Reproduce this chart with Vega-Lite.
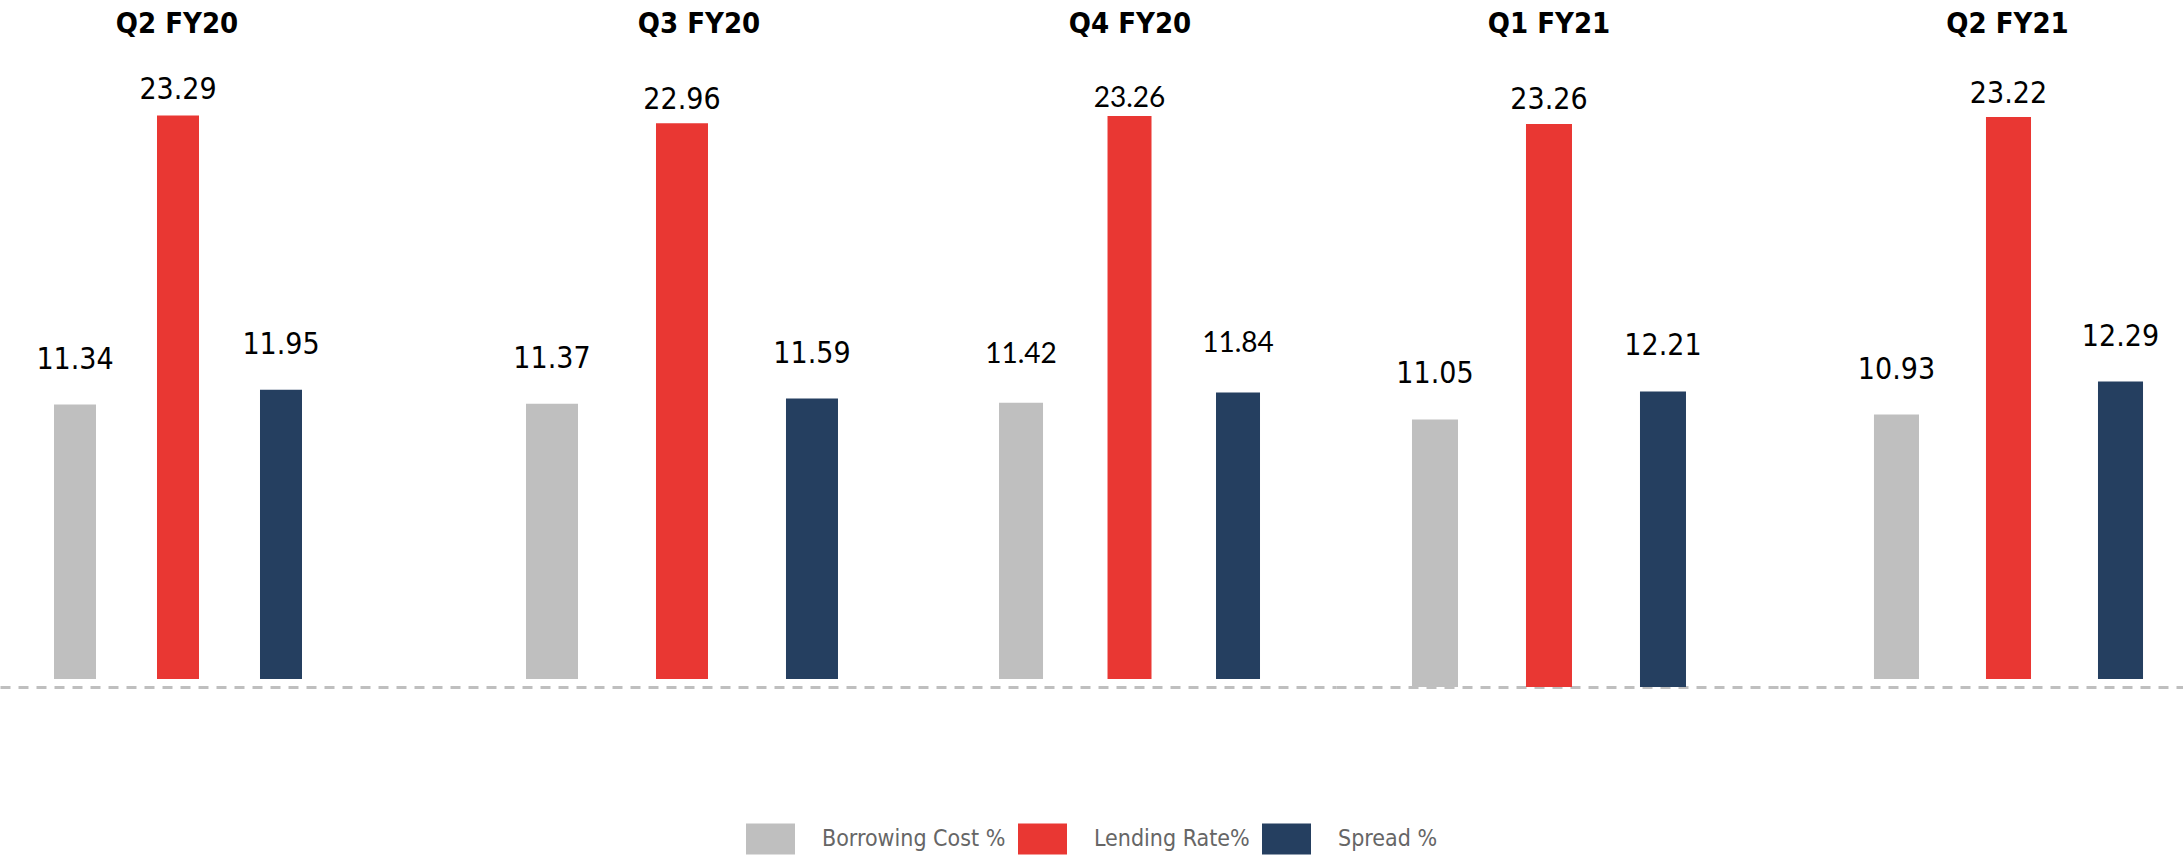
{
  "$schema": "https://vega.github.io/schema/vega-lite/v6.json",
  "padding": {"top": 10, "left": 0, "right": 0, "bottom": 0},
  "spacing": 0,
  "background": "#ffffff",
  "datasets": {
    "rates": [
      {"quarter": "Q2 FY20", "series": "Borrowing Cost %", "value": 11.34},
      {"quarter": "Q2 FY20", "series": "Lending Rate%", "value": 23.29},
      {"quarter": "Q2 FY20", "series": "Spread %", "value": 11.95},
      {"quarter": "Q3 FY20", "series": "Borrowing Cost %", "value": 11.37},
      {"quarter": "Q3 FY20", "series": "Lending Rate%", "value": 22.96},
      {"quarter": "Q3 FY20", "series": "Spread %", "value": 11.59},
      {"quarter": "Q4 FY20", "series": "Borrowing Cost %", "value": 11.42},
      {"quarter": "Q4 FY20", "series": "Lending Rate%", "value": 23.26},
      {"quarter": "Q4 FY20", "series": "Spread %", "value": 11.84},
      {"quarter": "Q1 FY21", "series": "Borrowing Cost %", "value": 11.05},
      {"quarter": "Q1 FY21", "series": "Lending Rate%", "value": 23.26},
      {"quarter": "Q1 FY21", "series": "Spread %", "value": 12.21},
      {"quarter": "Q2 FY21", "series": "Borrowing Cost %", "value": 10.93},
      {"quarter": "Q2 FY21", "series": "Lending Rate%", "value": 23.22},
      {"quarter": "Q2 FY21", "series": "Spread %", "value": 12.29}
    ]
  },
  "data": {"name": "rates"},
  "hconcat": [
    {
      "width": 414, "height": 613,
      "title": {"text": "Q2 FY20", "dx": -30},
      "transform": [{"filter": "datum.quarter === 'Q2 FY20'"}],
      "encoding": {
        "x": {"field": "series", "type": "nominal", "scale": {"domain": ["Borrowing Cost %", "Lending Rate%", "Spread %"], "paddingInner": 0.5922, "paddingOuter": 0.8058, "align": 0.3253}, "axis": {"labels": false, "ticks": false, "title": null, "domainDash": [10, 8], "domainColor": "#BFBFBF", "domainWidth": 3}},
        "y": {"field": "value", "type": "quantitative", "scale": {"domain": [-0.33, 25], "nice": false, "zero": false}, "axis": null}
      },
      "layer": [
        {"mark": {"type": "bar"}, "encoding": {"color": {"field": "series", "type": "nominal", "scale": {"domain": ["Borrowing Cost %", "Lending Rate%", "Spread %"], "range": ["#BFBFBF", "#E93733", "#253F60"]}, "legend": {"title": null}}}},
        {"transform": [{"filter": "datum.series === 'Lending Rate%'"}], "mark": {"type": "text", "baseline": "alphabetic", "dy": -16, "font": "DejaVu Sans Condensed", "fontSize": 30, "color": "#000000"}, "encoding": {"text": {"field": "value", "type": "quantitative", "format": ".2f"}}},
        {"transform": [{"filter": "datum.series !== 'Lending Rate%'"}], "mark": {"type": "text", "baseline": "alphabetic", "dy": -36, "font": "DejaVu Sans Condensed", "fontSize": 30, "color": "#000000"}, "encoding": {"text": {"field": "value", "type": "quantitative", "format": ".2f"}}}
      ]
    },
    {
      "width": 504, "height": 613,
      "title": {"text": "Q3 FY20", "dx": 33},
      "transform": [{"filter": "datum.quarter === 'Q3 FY20'"}],
      "encoding": {
        "x": {"field": "series", "type": "nominal", "scale": {"domain": ["Borrowing Cost %", "Lending Rate%", "Spread %"], "paddingInner": 0.6, "paddingOuter": 0.7385, "align": 0.5833}, "axis": {"labels": false, "ticks": false, "title": null, "domainDash": [10, 8], "domainColor": "#BFBFBF", "domainWidth": 3}},
        "y": {"field": "value", "type": "quantitative", "scale": {"domain": [-0.33, 25], "nice": false, "zero": false}, "axis": null}
      },
      "layer": [
        {"mark": {"type": "bar"}, "encoding": {"color": {"field": "series", "type": "nominal", "scale": {"domain": ["Borrowing Cost %", "Lending Rate%", "Spread %"], "range": ["#BFBFBF", "#E93733", "#253F60"]}, "legend": {"title": null}}}},
        {"transform": [{"filter": "datum.series === 'Lending Rate%'"}], "mark": {"type": "text", "baseline": "alphabetic", "dy": -14, "font": "DejaVu Sans Condensed", "fontSize": 30, "color": "#000000"}, "encoding": {"text": {"field": "value", "type": "quantitative", "format": ".2f"}}},
        {"transform": [{"filter": "datum.series !== 'Lending Rate%'"}], "mark": {"type": "text", "baseline": "alphabetic", "dy": -36, "font": "DejaVu Sans Condensed", "fontSize": 30, "color": "#000000"}, "encoding": {"text": {"field": "value", "type": "quantitative", "format": ".2f"}}}
      ]
    },
    {
      "width": 418, "height": 613,
      "title": {"text": "Q4 FY20", "dx": 3},
      "transform": [{"filter": "datum.quarter === 'Q4 FY20'"}],
      "encoding": {
        "x": {"field": "series", "type": "nominal", "scale": {"domain": ["Borrowing Cost %", "Lending Rate%", "Spread %"], "paddingInner": 0.5945, "paddingOuter": 0.7236, "align": 0.516}, "axis": {"labels": false, "ticks": false, "title": null, "domainDash": [10, 8], "domainColor": "#BFBFBF", "domainWidth": 3}},
        "y": {"field": "value", "type": "quantitative", "scale": {"domain": [-0.33, 25], "nice": false, "zero": false}, "axis": null}
      },
      "layer": [
        {"mark": {"type": "bar"}, "encoding": {"color": {"field": "series", "type": "nominal", "scale": {"domain": ["Borrowing Cost %", "Lending Rate%", "Spread %"], "range": ["#BFBFBF", "#E93733", "#253F60"]}, "legend": {"title": null}}}},
        {"transform": [{"filter": "datum.series === 'Lending Rate%'"}], "mark": {"type": "text", "baseline": "alphabetic", "dy": -9, "font": "Lato", "fontSize": 28, "color": "#000000"}, "encoding": {"text": {"field": "value", "type": "quantitative", "format": ".2f"}}},
        {"transform": [{"filter": "datum.series !== 'Lending Rate%'"}], "mark": {"type": "text", "baseline": "alphabetic", "dy": -40, "font": "Lato", "fontSize": 28, "color": "#000000"}, "encoding": {"text": {"field": "value", "type": "quantitative", "format": ".2f"}}}
      ]
    },
    {
      "width": 444, "height": 613,
      "title": {"text": "Q1 FY21", "dx": -9},
      "transform": [{"filter": "datum.quarter === 'Q1 FY21'"}],
      "encoding": {
        "x": {"field": "series", "type": "nominal", "scale": {"domain": ["Borrowing Cost %", "Lending Rate%", "Spread %"], "paddingInner": 0.5965, "paddingOuter": 0.7456, "align": 0.447}, "axis": {"labels": false, "ticks": false, "title": null, "domainDash": [10, 8], "domainColor": "#BFBFBF", "domainWidth": 3}},
        "y": {"field": "value", "type": "quantitative", "scale": {"domain": [0, 25.33], "nice": false, "zero": false}, "axis": null}
      },
      "layer": [
        {"mark": {"type": "bar"}, "encoding": {"color": {"field": "series", "type": "nominal", "scale": {"domain": ["Borrowing Cost %", "Lending Rate%", "Spread %"], "range": ["#BFBFBF", "#E93733", "#253F60"]}, "legend": {"title": null}}}},
        {"transform": [{"filter": "datum.series === 'Lending Rate%'"}], "mark": {"type": "text", "baseline": "alphabetic", "dy": -15, "font": "DejaVu Sans Condensed", "fontSize": 30, "color": "#000000"}, "encoding": {"text": {"field": "value", "type": "quantitative", "format": ".2f"}}},
        {"transform": [{"filter": "datum.series !== 'Lending Rate%'"}], "mark": {"type": "text", "baseline": "alphabetic", "dy": -37, "font": "DejaVu Sans Condensed", "fontSize": 30, "color": "#000000"}, "encoding": {"text": {"field": "value", "type": "quantitative", "format": ".2f"}}}
      ]
    },
    {
      "width": 403, "height": 613,
      "title": {"text": "Q2 FY21", "dx": 26},
      "transform": [{"filter": "datum.quarter === 'Q2 FY21'"}],
      "encoding": {
        "x": {"field": "series", "type": "nominal", "scale": {"domain": ["Borrowing Cost %", "Lending Rate%", "Spread %"], "paddingInner": 0.598, "paddingOuter": 0.598, "align": 0.7015}, "axis": {"labels": false, "ticks": false, "title": null, "domainDash": [10, 8], "domainColor": "#BFBFBF", "domainWidth": 3}},
        "y": {"field": "value", "type": "quantitative", "scale": {"domain": [-0.33, 25], "nice": false, "zero": false}, "axis": null}
      },
      "layer": [
        {"mark": {"type": "bar"}, "encoding": {"color": {"field": "series", "type": "nominal", "scale": {"domain": ["Borrowing Cost %", "Lending Rate%", "Spread %"], "range": ["#BFBFBF", "#E93733", "#253F60"]}, "legend": {"title": null}}}},
        {"transform": [{"filter": "datum.series === 'Lending Rate%'"}], "mark": {"type": "text", "baseline": "alphabetic", "dy": -14, "font": "DejaVu Sans Condensed", "fontSize": 30, "color": "#000000"}, "encoding": {"text": {"field": "value", "type": "quantitative", "format": ".2f"}}},
        {"transform": [{"filter": "datum.series !== 'Lending Rate%'"}], "mark": {"type": "text", "baseline": "alphabetic", "dy": -36, "font": "DejaVu Sans Condensed", "fontSize": 30, "color": "#000000"}, "encoding": {"text": {"field": "value", "type": "quantitative", "format": ".2f"}}}
      ]
    }
  ],
  "config": {
    "view": {"stroke": null},
    "title": {"font": "DejaVu Sans Condensed", "fontSize": 29, "fontWeight": "bold", "color": "#000000", "offset": 35, "anchor": "middle"},
    "legend": {"orient": "bottom", "direction": "horizontal", "layout": {"bottom": {"anchor": "middle"}}, "symbolType": "M-1,-0.633H1V0.633H-1Z", "symbolSize": 2401, "symbolStrokeWidth": 0, "symbolOpacity": 1, "labelFont": "DejaVu Sans Condensed", "labelFontSize": 23, "labelColor": "#666666", "labelOffset": 27, "columnPadding": 12, "offset": 127, "labelLimit": 400}
  }
}
